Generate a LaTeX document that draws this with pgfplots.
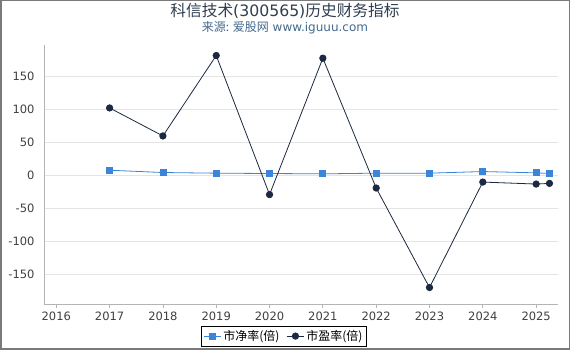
\documentclass[border=0pt]{standalone}
\usepackage{fontspec}
\setmainfont{DejaVu Sans}
\newfontfamily\cjk{Noto Sans CJK SC}
\usepackage{pgfplots}
\pgfplotsset{compat=1.18}
\definecolor{pbblue}{HTML}{3A85D8}
\definecolor{pedark}{HTML}{1B2A40}
\definecolor{titlec}{HTML}{2F3E50}
\definecolor{subc}{HTML}{45698E}
\definecolor{axc}{HTML}{B4B4B4}
\definecolor{gridc}{HTML}{E4E4E4}
\definecolor{framec}{HTML}{7A7A7A}
\begin{document}
\begin{tikzpicture}
\useasboundingbox (0pt,0pt) rectangle (570pt,350pt);
\fill[white] (0pt,0pt) rectangle (570pt,350pt);
\draw[framec, line width=1.5pt] (0.75pt,0.75pt) rectangle (569.25pt,349.25pt);
\node[text=titlec, font=\fontsize{15.7}{18}\selectfont] at (285pt,339pt) {{\cjk 科信技术}(300565){\cjk 历史财务指标}};
\node[text=subc, font=\fontsize{12}{14}\selectfont] at (285pt,322pt) {{\cjk 来源: 爱股网} www.iguuu.com};
\begin{axis}[
  at={(44pt,46pt)}, anchor=south west,
  scale only axis, width=514pt, height=259pt,
  xmin=2015.77, xmax=2025.41,
  ymin=-195, ymax=198,
  xtick={2016,2017,2018,2019,2020,2021,2022,2023,2024,2025},
  ytick={-150,-100,-50,0,50,100,150},
  axis x line*=bottom, axis y line*=left,
  axis line style={axc, line width=0.8pt, -},
  x tick style={axc, line width=0.8pt},
  y tick style={draw=none},
  tick align=outside,
  major tick length=4pt,
  ymajorgrids, grid style={gridc, line width=0.8pt},
  /pgf/number format/assume math mode=true,
  /pgf/number format/1000 sep={},
  ticklabel style={text=black!75, font=\fontsize{11.5}{13}\selectfont},
  xticklabel style={yshift=0pt},
  yticklabel style={xshift=-2pt},
  legend style={at={(0.467,-0.124)}, anchor=center, draw=black, line width=0.8pt,
    font=\fontsize{12}{14}\selectfont, legend columns=2,
    /tikz/every even column/.append style={column sep=5pt},
    inner sep=2pt},
  legend cell align=left,
  clip=false,
]
\addplot[pbblue, line width=0.8pt, mark=square*, mark size=3pt, mark options={fill=pbblue, draw=pbblue}]
coordinates {(2017,8) (2018,4.5) (2019,3.5) (2020,3) (2021,2.5) (2022,3.5) (2023,3.5) (2024,6) (2025,4) (2025.25,3)};
\addlegendentry{\cjk 市净率(倍)}
\addplot[pedark, line width=0.8pt, mark=*, mark size=3.2pt, mark options={fill=pedark, draw=pedark}]
coordinates {(2017,102.5) (2018,60) (2019,182) (2020,-29) (2021,178) (2022,-19) (2023,-170) (2024,-10) (2025,-13) (2025.25,-12)};
\addlegendentry{\cjk 市盈率(倍)}
\end{axis}
\end{tikzpicture}
\end{document}
